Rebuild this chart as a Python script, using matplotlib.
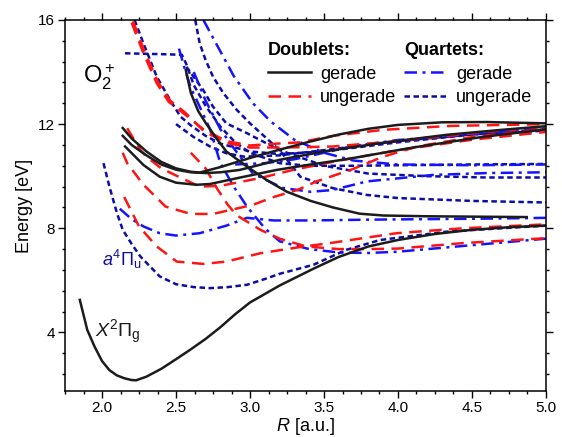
import numpy as np
import matplotlib.pyplot as plt
from matplotlib.lines import Line2D

plt.rcParams['font.family'] = 'Liberation Sans'
plt.rcParams['mathtext.fontset'] = 'custom'
plt.rcParams['mathtext.rm'] = 'Liberation Sans'
plt.rcParams['mathtext.it'] = 'Liberation Sans:italic'
plt.rcParams['mathtext.bf'] = 'Liberation Sans:bold'

# ---- doublets, gerade (black solid) ----
x2pg_r = [1.85, 1.9, 1.95, 2.0, 2.05, 2.1, 2.15, 2.2, 2.23, 2.3, 2.4, 2.5, 2.6, 2.7, 2.8,
          2.9, 3.0, 3.2, 3.43, 3.6, 3.8, 4.0, 4.25, 4.5, 4.75, 5.0]
x2pg_e = [5.25, 4.1, 3.45, 2.9, 2.55, 2.35, 2.24, 2.17, 2.16, 2.3, 2.6, 2.97, 3.35, 3.75, 4.2,
          4.7, 5.15, 5.8, 6.45, 6.9, 7.3, 7.55, 7.78, 7.94, 8.04, 8.1]
dg1_r = [2.566, 2.6, 2.65, 2.7, 2.78, 2.84, 2.96, 3.11, 3.25, 3.41, 3.56, 3.74, 3.9, 4.2, 4.87]
dg1_e = [14.08, 13.2, 12.5, 12.05, 11.4, 10.95, 10.45, 9.86, 9.4, 9.05, 8.8, 8.56, 8.49, 8.46, 8.43]
dg2_r = [2.14, 2.2, 2.3, 2.4, 2.5, 2.6, 2.66, 2.8, 3.0, 3.2, 3.4, 3.6, 3.8, 4.0, 4.3, 4.6, 5.0]
dg2_e = [11.85, 11.45, 10.95, 10.55, 10.3, 10.17, 10.14, 10.35, 10.7, 11.02, 11.32, 11.6,
         11.82, 11.97, 12.07, 12.08, 12.03]
dg3_r = [2.14, 2.2, 2.3, 2.4, 2.5, 2.6, 2.7, 2.8, 2.93, 3.02, 3.2, 3.5, 3.88, 4.33, 4.7, 5.0]
dg3_e = [11.55, 11.2, 10.8, 10.45, 10.25, 10.15, 10.12, 10.15, 10.24, 10.37, 10.63, 10.95,
         11.27, 11.59, 11.78, 11.92]
dg4_r = [2.156, 2.28, 2.39, 2.5, 2.64, 2.73, 2.96, 3.18, 3.41, 3.65, 4.1, 4.56, 5.0]
dg4_e = [11.14, 10.43, 9.98, 9.75, 9.67, 9.7, 9.98, 10.24, 10.45, 10.65, 11.1, 11.5, 11.8]

# ---- doublets, ungerade (red dashed) ----
du1_r = [2.2, 2.28, 2.37, 2.45, 2.55, 2.685, 2.84, 3.0, 3.18, 3.34, 3.56, 3.9, 4.35, 5.0]
du1_e = [15.9, 14.72, 13.57, 12.86, 12.42, 11.8, 11.35, 11.18, 11.25, 11.3, 11.55, 11.78,
         11.93, 12.0]
du2_r = [2.21, 2.29, 2.38, 2.46, 2.56, 2.69, 2.84, 3.0, 3.2, 3.4, 3.56, 3.9, 4.2, 4.6, 5.0]
du2_e = [15.95, 14.75, 13.6, 12.9, 12.45, 11.72, 11.28, 11.1, 11.1, 11.12, 11.14, 11.3,
         11.47, 11.7, 11.9]
du3_r = [2.17, 2.26, 2.3, 2.4, 2.51, 2.66, 2.8, 3.07, 3.29, 3.6, 4.0, 4.5, 5.0]
du3_e = [11.84, 11.0, 10.75, 10.3, 10.0, 9.6, 9.63, 9.93, 10.24, 10.6, 11.0, 11.4, 11.7]
du4_r = [2.14, 2.17, 2.28, 2.43, 2.6, 2.75, 3.02, 3.16, 3.32, 3.45, 3.68, 3.9, 4.13, 4.5, 5.0]
du4_e = [10.9, 10.5, 9.67, 8.83, 8.55, 8.55, 8.9, 9.2, 9.47, 9.8, 10.24, 10.75, 11.14, 11.5, 11.8]
du5_r = [2.15, 2.25, 2.37, 2.505, 2.685, 2.84, 3.07, 3.34, 3.54, 3.99, 4.44, 5.0]
du5_e = [9.2, 8.07, 7.3, 6.72, 6.63, 6.72, 7.04, 7.28, 7.43, 7.81, 8.0, 8.15]
du6_r = [2.6, 2.7, 2.78, 2.85, 2.91, 3.07, 3.2, 3.38, 3.6, 3.8, 4.0, 4.44, 5.0]
du6_e = [10.9, 10.3, 9.5, 8.9, 8.5, 7.94, 7.6, 7.3, 7.2, 7.2, 7.22, 7.43, 7.62]

# ---- quartets, gerade (blue dash-dot) ----
qg1_r = [2.685, 2.78, 2.89, 3.02, 3.14, 3.3, 3.5, 3.7, 4.0, 4.5, 5.0]
qg1_e = [16.0, 15.0, 13.85, 12.8, 12.1, 11.4, 10.9, 10.6, 10.45, 10.42, 10.45]
qg2_r = [2.52, 2.56, 2.6, 2.66, 2.73, 2.8, 2.89, 2.98, 3.1, 3.2, 3.4, 3.6, 3.8, 4.0, 4.5, 5.0]
qg2_e = [14.9, 14.1, 13.4, 12.67, 11.8, 10.5, 9.6, 8.83, 8.0, 7.5, 7.2, 7.07, 7.05, 7.1, 7.35, 7.6]
qg3_r = [2.62, 2.7, 2.8, 2.9, 3.02, 3.22, 3.41, 3.56, 3.79, 4.24, 4.6, 5.0]
qg3_e = [14.0, 12.9, 11.8, 11.0, 10.1, 9.55, 9.4, 9.47, 9.8, 10.05, 10.12, 10.15]
qg4_r = [2.12, 2.2, 2.28, 2.39, 2.5, 2.66, 2.84, 2.98, 3.16, 3.41, 3.8, 4.2, 4.6, 5.0]
qg4_e = [8.75, 8.35, 8.07, 7.81, 7.72, 7.81, 8.1, 8.4, 8.3, 8.3, 8.33, 8.35, 8.37, 8.4]
qg5_r = [2.9, 3.1, 3.3, 3.5, 3.68, 4.0, 4.17, 4.5, 5.0]
qg5_e = [10.45, 10.5, 10.65, 10.9, 11.14, 11.39, 11.46, 11.62, 11.84]

# ---- quartets, ungerade (navy dotted) ----
qu1_r = [2.01, 2.05, 2.1, 2.14, 2.2, 2.26, 2.39, 2.5, 2.62, 2.73, 2.85, 2.98, 3.1, 3.2, 3.43,
         3.65, 3.88, 4.33, 4.7, 5.0]
qu1_e = [10.5, 9.6, 8.6, 7.94, 7.4, 6.91, 6.15, 5.85, 5.74, 5.7, 5.74, 5.83, 6.05, 6.25, 6.6,
         7.17, 7.55, 7.87, 8.0, 8.1]
qu2_r = [2.155, 2.3, 2.45, 2.54, 2.57, 2.62, 2.7, 2.8, 2.9, 3.0, 3.2, 3.4, 3.7, 4.0, 4.5, 5.0]
qu2_e = [14.72, 14.7, 14.68, 14.66, 14.3, 13.5, 12.7, 11.9, 11.3, 10.9, 10.5, 10.4, 10.4,
         10.42, 10.45, 10.47]
qu3_r = [2.22, 2.28, 2.37, 2.46, 2.53, 2.6, 2.7, 2.8, 3.0, 3.2, 3.5, 4.0, 4.5, 5.0]
qu3_e = [16.0, 15.1, 13.82, 12.93, 12.29, 11.95, 11.55, 11.25, 10.95, 10.85, 10.95, 11.3, 11.6, 11.8]
qu4_r = [2.63, 2.66, 2.7, 2.75, 2.82, 2.91, 3.0, 3.2, 3.34, 3.56, 3.79, 4.0, 4.5, 5.0]
qu4_e = [16.0, 15.1, 14.46, 13.82, 13.19, 12.55, 12.03, 11.0, 9.98, 9.54, 9.28, 9.16, 9.05, 8.99]
qu5_r = [2.57, 2.685, 2.75, 2.84, 2.98, 3.2, 3.5, 3.8, 4.2, 4.6, 5.0]
qu5_e = [14.2, 13.3, 12.67, 12.03, 11.65, 11.0, 10.4, 10.1, 10.0, 9.95, 9.95]
qu6_r = [2.5, 2.62, 2.73, 2.84, 2.96, 3.2, 3.5, 4.0, 4.5, 5.0]
qu6_e = [12.0, 11.5, 11.14, 10.88, 10.75, 10.8, 11.0, 11.35, 11.6, 11.75]

black = '#1c1c1c'
red = '#ff1414'
blue = '#1414ff'
navy = '#0c0ca6'
lw = 1.8
ls_dash = (0, (5, 3))
ls_dashdot = (0, (5, 2.2, 1.2, 2.2))
ls_dot = (0, (2.2, 1.4))

fig = plt.figure(figsize=(5.62, 4.37), dpi=100)
ax = fig.add_axes([0.1157, 0.1053, 0.8558, 0.8490])

for r, e in [(qu1_r, qu1_e), (qu2_r, qu2_e), (qu3_r, qu3_e), (qu4_r, qu4_e),
             (qu5_r, qu5_e), (qu6_r, qu6_e)]:
    ax.plot(r, e, color=navy, lw=lw, ls=ls_dot)
for r, e in [(qg1_r, qg1_e), (qg2_r, qg2_e), (qg3_r, qg3_e), (qg4_r, qg4_e), (qg5_r, qg5_e)]:
    ax.plot(r, e, color=blue, lw=lw, ls=ls_dashdot)
for r, e in [(du1_r, du1_e), (du2_r, du2_e), (du3_r, du3_e), (du4_r, du4_e),
             (du5_r, du5_e), (du6_r, du6_e)]:
    ax.plot(r, e, color=red, lw=lw, ls=ls_dash)
for r, e in [(x2pg_r, x2pg_e), (dg1_r, dg1_e), (dg2_r, dg2_e), (dg3_r, dg3_e), (dg4_r, dg4_e)]:
    ax.plot(r, e, color=black, lw=lw, ls='-')

ax.set_xlim(1.75, 5.0)
ax.set_ylim(1.75, 16)
ax.set_xticks(np.arange(2.0, 5.01, 0.5))
ax.set_xticks(np.arange(1.75, 5.01, 0.125), minor=True)
ax.set_yticks([4, 8, 12, 16])
ax.set_yticks(np.arange(2.4, 16.01, 0.8), minor=True)
ax.xaxis.set_major_formatter(plt.FormatStrFormatter('%.1f'))
ax.tick_params(which='both', direction='out', top=True, right=True, labelsize=11, width=1)
ax.tick_params(which='major', length=5, pad=2)
ax.tick_params(which='minor', length=2.5)
for s in ax.spines.values():
    s.set_linewidth(1.1)

ax.set_xlabel(r'$R$ [a.u.]', fontsize=13, labelpad=1)
ax.set_ylabel('Energy [eV]', fontsize=13, labelpad=4)

ax.text(1.87, 13.8, r'O$_2^+$', fontsize=17, va='center', ha='left')
ax.text(2.0, 6.8, r'$a^4\Pi_{\rm u}$', fontsize=13, color=navy, va='center', ha='left')
ax.text(1.95, 4.0, r'$X^2\Pi_{\rm g}$', fontsize=14, color=black, va='center', ha='left')

h_d = [Line2D([], [], color=black, lw=lw, ls='-'), Line2D([], [], color=red, lw=lw, ls=ls_dash)]
h_q = [Line2D([], [], color=blue, lw=lw, ls=ls_dashdot), Line2D([], [], color=navy, lw=lw, ls=ls_dot)]
leg1 = ax.legend(h_d, ['gerade', 'ungerade'], title='Doublets:', loc='upper left',
                 bbox_to_anchor=(0.395, 0.975), frameon=False, fontsize=13,
                 title_fontproperties={'weight': 'bold', 'size': 13}, alignment='left',
                 handlelength=2.4, handletextpad=0.5, labelspacing=0.37, borderpad=0.2)
ax.add_artist(leg1)
ax.legend(h_q, ['gerade', 'ungerade'], title='Quartets:', loc='upper left',
          bbox_to_anchor=(0.678, 0.975), frameon=False, fontsize=13,
          title_fontproperties={'weight': 'bold', 'size': 13}, alignment='left',
          handlelength=2.4, handletextpad=0.5, labelspacing=0.37, borderpad=0.2)

fig.savefig('out.png', dpi=100)
